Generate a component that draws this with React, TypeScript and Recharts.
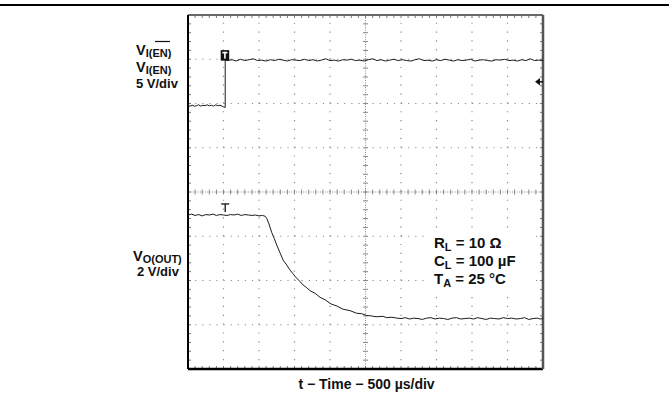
import React from 'react';
import { LineChart, Line, XAxis, YAxis, ReferenceLine, ReferenceDot } from 'recharts';

// Screen: 10 horizontal divisions of 500 µs, 8 vertical divisions
const timeDomainUs: [number, number] = [0, 5000];
const screenDomainDiv: [number, number] = [0, 8];
const majorTimeUs = [500, 1000, 1500, 2000, 3000, 3500, 4000, 4500];
const majorLevelDiv = [1, 2, 3, 5, 6, 7];
const centerTimeUs = 2500;
const centerLevelDiv = 4;

// Channel 1: V_I(EN), 5 V/div  [time µs, screen division]
const enableTrace: [number, number][] = [
  [0, 5.95], [30, 5.94], [60, 5.96], [90, 5.94], [120, 5.95], [150, 5.97], [180, 5.94], [210, 5.96],
  [240, 5.95], [270, 5.97], [300, 5.95], [330, 5.96], [360, 5.94], [390, 5.97], [420, 5.95], [450, 5.96],
  [480, 5.94], [505, 5.92], [524, 5.91], [524, 6.98],
  [560, 6.97], [620, 6.99], [680, 6.96], [740, 7.0], [800, 6.97], [860, 6.99], [920, 7.01], [980, 6.97],
  [1040, 6.98], [1100, 6.96], [1160, 6.99], [1220, 6.97], [1280, 7.0], [1340, 6.98], [1400, 6.96], [1460, 6.99],
  [1520, 6.98], [1580, 6.97], [1640, 7.0], [1700, 6.97], [1760, 6.99], [1820, 6.96], [1880, 6.98], [1940, 7.01],
  [2000, 6.97], [2060, 6.98], [2120, 6.96], [2180, 6.99], [2240, 6.98], [2300, 7.0], [2360, 6.97], [2420, 6.98],
  [2480, 6.96], [2540, 6.99], [2600, 7.01], [2660, 6.97], [2720, 6.99], [2780, 6.96], [2840, 6.98], [2900, 7.0],
  [2960, 6.97], [3020, 6.99], [3080, 6.97], [3140, 6.96], [3200, 6.99], [3260, 7.01], [3320, 6.97], [3380, 6.98],
  [3440, 6.96], [3500, 6.99], [3560, 6.97], [3620, 7.0], [3680, 6.98], [3740, 6.96], [3800, 6.99], [3860, 6.97],
  [3920, 6.98], [3980, 7.0], [4040, 6.96], [4100, 6.98], [4160, 6.99], [4220, 6.97], [4280, 6.96], [4340, 6.99],
  [4400, 6.98], [4460, 7.0], [4520, 6.97], [4580, 6.98], [4640, 6.96], [4700, 6.99], [4760, 6.97], [4820, 7.01],
  [4880, 6.97], [4940, 6.98], [5000, 6.97],
];

// Channel 2: V_O(OUT), 2 V/div  [time µs, screen division]
const outputTrace: [number, number][] = [
  [0, 3.48], [50, 3.5], [100, 3.47], [150, 3.49], [200, 3.46], [250, 3.49], [300, 3.48], [350, 3.5],
  [400, 3.47], [450, 3.49], [500, 3.48], [550, 3.47], [600, 3.49], [650, 3.48], [700, 3.5], [750, 3.47],
  [800, 3.49], [850, 3.48], [900, 3.47], [950, 3.48], [1000, 3.46], [1050, 3.47], [1090, 3.45],
  [1110, 3.4], [1140, 3.28], [1180, 3.08], [1215, 2.95], [1250, 2.8], [1295, 2.63], [1340, 2.46], [1390, 2.35],
  [1435, 2.24], [1475, 2.16], [1515, 2.08], [1570, 1.99], [1620, 1.9], [1670, 1.84], [1720, 1.77], [1790, 1.71],
  [1860, 1.62], [1935, 1.56], [2015, 1.47], [2100, 1.42], [2185, 1.35], [2280, 1.32], [2375, 1.26], [2445, 1.25],
  [2515, 1.21], [2580, 1.2], [2650, 1.18], [2745, 1.19], [2800, 1.16], [2870, 1.17], [2940, 1.15],
  [3000, 1.14], [3060, 1.16], [3120, 1.13], [3180, 1.15], [3240, 1.14], [3300, 1.12], [3360, 1.15], [3420, 1.16],
  [3480, 1.13], [3540, 1.15], [3600, 1.14], [3660, 1.12], [3720, 1.15], [3780, 1.16], [3840, 1.13], [3900, 1.14],
  [3960, 1.15], [4020, 1.13], [4080, 1.16], [4140, 1.14], [4200, 1.12], [4260, 1.15], [4320, 1.14], [4380, 1.13],
  [4440, 1.16], [4500, 1.14], [4560, 1.15], [4620, 1.13], [4680, 1.14], [4740, 1.16], [4800, 1.12], [4860, 1.14],
  [4920, 1.15], [4960, 1.13], [5000, 1.14],
];

// Markers
const triggerTimeUs = 524;
const ch1TriggerLevel = 6.98;
const ch2MarkerLevel = 3.47;
const ch1GroundLevel = 6.49;

const enData = enableTrace.map(([t, v]) => ({ t, v }));
const outData = outputTrace.map(([t, v]) => ({ t, v }));

const FONT = '"Liberation Sans", Arial, Helvetica, sans-serif';
const GRID = '#8a8a8a';
const TRACE = '#1c1c1c';

function makeEdge(horizontal: boolean, dir: number, color: string, width: number, divs: number) {
  return (p: any) => {
    const { x1, y1, x2, y2 } = p;
    const ticks: React.ReactNode[] = [];
    for (let i = 1; i < divs; i++) {
      const f = i / divs;
      const x = x1 + (x2 - x1) * f;
      const y = y1 + (y2 - y1) * f;
      ticks.push(
        horizontal ? (
          <line key={i} x1={x} x2={x} y1={y} y2={y + dir * 3} stroke="#7a7a7a" strokeWidth={1} />
        ) : (
          <line key={i} x1={x} x2={x + dir * 3} y1={y} y2={y} stroke="#7a7a7a" strokeWidth={1} />
        )
      );
    }
    return (
      <g>
        {ticks}
        <line x1={x1} y1={y1} x2={x2} y2={y2} stroke={color} strokeWidth={width} />
      </g>
    );
  };
}

function makeCenter(horizontal: boolean, divs: number) {
  return (p: any) => {
    const { x1, y1, x2, y2 } = p;
    const ticks: React.ReactNode[] = [];
    for (let i = 1; i < divs; i++) {
      const f = i / divs;
      const x = x1 + (x2 - x1) * f;
      const y = y1 + (y2 - y1) * f;
      ticks.push(
        horizontal ? (
          <line key={i} x1={x} x2={x} y1={y - 2.5} y2={y + 2.5} stroke={GRID} strokeWidth={1} />
        ) : (
          <line key={i} x1={x - 2.5} x2={x + 2.5} y1={y} y2={y} stroke={GRID} strokeWidth={1} />
        )
      );
    }
    return (
      <g>
        <line x1={x1} y1={y1} x2={x2} y2={y2} stroke={GRID} strokeWidth={1} strokeDasharray="1 1.4" />
        {ticks}
      </g>
    );
  };
}

const Ch1Trigger = (p: any) => {
  const { cx, cy } = p;
  return (
    <g>
      <rect x={cx - 4.5} y={cy - 10} width={8.5} height={10.5} fill="#111" />
      <rect x={cx - 2.8} y={cy - 8.3} width={5} height={1.6} fill="#fff" />
      <rect x={cx - 1.1} y={cy - 8.3} width={1.6} height={6.8} fill="#fff" />
    </g>
  );
};

const Ch2Trigger = (p: any) => {
  const { cx, cy } = p;
  return (
    <g stroke="#111" strokeWidth={1.3}>
      <line x1={cx - 4} x2={cx + 4} y1={cy - 11.5} y2={cy - 11.5} />
      <line x1={cx} x2={cx} y1={cy - 11.5} y2={cy - 3.5} />
    </g>
  );
};

const GroundArrow = (p: any) => {
  const { cx, cy } = p;
  return (
    <g>
      <path d={`M ${cx - 8} ${cy} L ${cx - 3} ${cy - 3.8} L ${cx - 3} ${cy + 3.8} Z`} fill="#111" />
      <line x1={cx - 3} x2={cx} y1={cy} y2={cy} stroke="#111" strokeWidth={1.5} />
    </g>
  );
};

export default function App() {
  return (
    <div style={{ position: 'absolute', left: 0, top: 0, width: 669, height: 406, background: '#fff', overflow: 'hidden' }}>
      <div style={{ position: 'absolute', left: 0, top: 4, width: 669, height: 2, background: '#000' }} />
      <div style={{ position: 'absolute', left: 0, top: 0 }}>
        <LineChart width={669} height={406} margin={{ left: 188, right: 126, top: 15, bottom: 37 }}>
          <XAxis dataKey="t" type="number" domain={timeDomainUs} hide allowDataOverflow />
          <YAxis type="number" domain={screenDomainDiv} hide allowDataOverflow />
          {majorTimeUs.map((t) => (
            <ReferenceLine key={`vx${t}`} x={t} stroke={GRID} strokeWidth={1.2} strokeDasharray="1.2 7.65" />
          ))}
          {majorLevelDiv.map((v) => (
            <ReferenceLine key={`hy${v}`} y={v} stroke={GRID} strokeWidth={1.2} strokeDasharray="1.2 5.9" />
          ))}
          <ReferenceLine x={centerTimeUs} shape={makeCenter(false, 40)} />
          <ReferenceLine y={centerLevelDiv} shape={makeCenter(true, 50)} />
          <ReferenceLine y={screenDomainDiv[1]} shape={makeEdge(true, 1, '#6a6a6a', 2, 50)} />
          <ReferenceLine y={screenDomainDiv[0]} shape={makeEdge(true, -1, '#000', 2.5, 50)} />
          <ReferenceLine x={timeDomainUs[0]} shape={makeEdge(false, 1, '#000', 2, 40)} />
          <ReferenceLine x={timeDomainUs[1]} shape={makeEdge(false, -1, '#555', 2.5, 40)} />
          <Line data={enData} dataKey="v" type="linear" dot={false} stroke={TRACE} strokeWidth={1} isAnimationActive={false} />
          <Line data={outData} dataKey="v" type="linear" dot={false} stroke={TRACE} strokeWidth={1} isAnimationActive={false} />
          <ReferenceDot x={triggerTimeUs} y={ch1TriggerLevel} shape={Ch1Trigger} />
          <ReferenceDot x={triggerTimeUs} y={ch2MarkerLevel} shape={Ch2Trigger} />
          <ReferenceDot x={timeDomainUs[1]} y={ch1GroundLevel} shape={GroundArrow} />
        </LineChart>
      </div>
      <svg width={669} height={406} style={{ position: 'absolute', left: 0, top: 0, pointerEvents: 'none' }} fontFamily={FONT} fontWeight="bold" fill="#111">
        <text x={136} y={55} fontSize={14.5}>
          V<tspan fontSize={11} dy={2.3}>I(EN)</tspan>
        </text>
        <line x1={155} x2={170} y1={41.5} y2={41.5} stroke="#111" strokeWidth={1.2} />
        <text x={136} y={72} fontSize={14.5}>
          V<tspan fontSize={11} dy={2.3}>I(EN)</tspan>
        </text>
        <text x={136} y={87.5} fontSize={13}>5 V/div</text>
        <text x={133} y={261} fontSize={14.5}>
          V<tspan fontSize={11} dy={2.3}>O(OUT)</tspan>
        </text>
        <text x={137} y={276} fontSize={13}>2 V/div</text>

        <rect x={425} y={232} width={105} height={58} fill="#fff" />
        <text x={434} y={248} fontSize={15}>
          R<tspan fontSize={11} dy={3}>L</tspan><tspan dy={-3}> = 10 Ω</tspan>
        </text>
        <text x={434} y={266} fontSize={15}>
          C<tspan fontSize={11} dy={3}>L</tspan><tspan dy={-3}> = 100 µF</tspan>
        </text>
        <text x={434} y={284} fontSize={15}>
          T<tspan fontSize={11} dy={3}>A</tspan><tspan dy={-3}> = 25 °C</tspan>
        </text>

        <text x={366.5} y={389} fontSize={14} textAnchor="middle">t − Time − 500 µs/div</text>
      </svg>
    </div>
  );
}
